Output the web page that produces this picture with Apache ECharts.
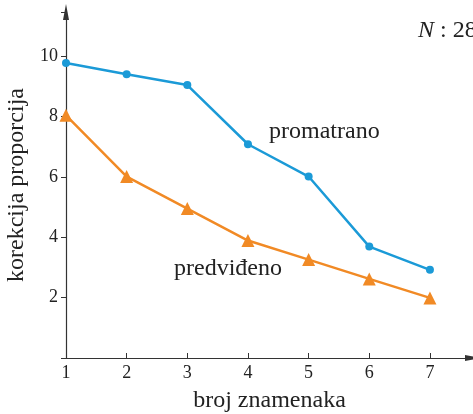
<!DOCTYPE html>
<html>
<head>
<meta charset="utf-8">
<script src="https://cdn.jsdelivr.net/npm/echarts@6/dist/echarts.min.js"></script>
<style>
  html, body { margin: 0; padding: 0; background: #fff; }
  #chart { width: 473px; height: 414px; }
</style>
</head>
<body>
<div id="chart"></div>
<script>
// broj znamenaka
const digits = [1, 2, 3, 4, 5, 6, 7];
const observed = [9.77, 9.40, 9.04, 7.08, 6.01, 3.69, 2.92];
const predicted = [8.04, 6.01, 4.95, 3.89, 3.26, 2.62, 1.99];
const yTicks = [2, 4, 6, 8, 10];

const serif = '"Liberation Serif", "DejaVu Serif", serif';
const axisColor = '#333';
const textColor = '#222';

const chart = echarts.init(document.getElementById('chart'));

chart.setOption({
    backgroundColor: '#fff',
    animation: false,
    grid: { left: 66, right: 0, top: 12, bottom: 56, outerBoundsMode: 'none' },
    xAxis: {
        type: 'value',
        min: 1,
        max: 7.71,
        interval: 1,
        name: 'broj znamenaka',
        nameLocation: 'middle',
        nameGap: 31,
        nameTextStyle: { fontFamily: serif, fontSize: 24, color: textColor },
        splitLine: { show: false },
        axisLine: {
            onZero: false,
            symbol: ['none', 'triangle'],
            symbolSize: [6, 16],
            lineStyle: { color: axisColor, width: 1.2 }
        },
        axisTick: { inside: true, length: 5, lineStyle: { color: axisColor } },
        axisLabel: {
            fontFamily: serif, fontSize: 18, color: textColor, margin: 6,
            formatter: v => digits.indexOf(v) >= 0 ? String(v) : ''
        }
    },
    yAxis: {
        type: 'value',
        min: 0,
        max: 11.46,
        interval: 2,
        name: 'korekcija proporcija',
        nameLocation: 'middle',
        nameGap: 34,
        nameTextStyle: { fontFamily: serif, fontSize: 24, color: textColor },
        splitLine: { show: false },
        axisLine: {
            symbol: ['none', 'triangle'],
            symbolSize: [6, 16],
            lineStyle: { color: axisColor, width: 1.2 }
        },
        axisTick: { length: 5, lineStyle: { color: axisColor } },
        axisLabel: {
            fontFamily: serif, fontSize: 18, color: textColor, margin: 8,
            formatter: v => yTicks.indexOf(v) >= 0 ? String(v) : ''
        }
    },
    series: [
        {
            name: 'promatrano',
            type: 'line',
            data: digits.map((d, i) => [d, observed[i]]),
            symbol: 'circle',
            symbolSize: 8,
            lineStyle: { color: '#1b9ad7', width: 2.5 },
            itemStyle: { color: '#1b9ad7' }
        },
        {
            name: 'predviđeno',
            type: 'line',
            data: digits.map((d, i) => [d, predicted[i]]),
            symbol: 'triangle',
            symbolSize: 13,
            lineStyle: { color: '#f18a25', width: 2.5 },
            itemStyle: { color: '#f18a25' }
        }
    ],
    graphic: [
        {
            type: 'text', left: 269, top: 120,
            style: { text: 'promatrano', font: '24px ' + serif, fill: textColor }
        },
        {
            type: 'text', left: 174, top: 257,
            style: { text: 'predviđeno', font: '24px ' + serif, fill: textColor }
        },
        {
            type: 'text', left: 418, top: 19,
            style: {
                rich: {
                    n: { fontFamily: serif, fontStyle: 'italic', fontSize: 24, fill: textColor },
                    r: { fontFamily: serif, fontSize: 24, fill: textColor }
                },
                text: '{n|N}{r| : 28}'
            }
        }
    ]
});
</script>
</body>
</html>
